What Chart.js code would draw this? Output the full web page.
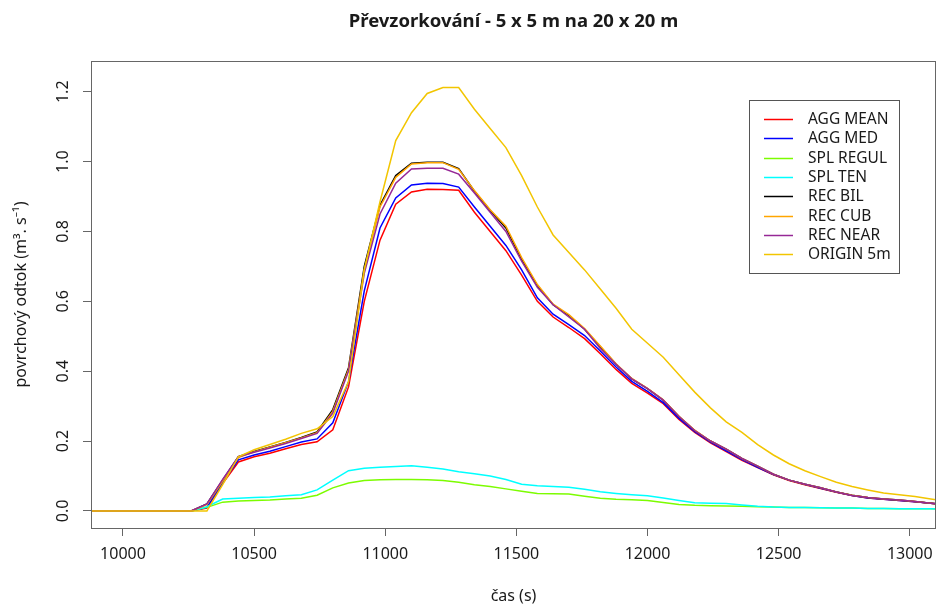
<!DOCTYPE html>
<html lang="cs">
<head>
<meta charset="UTF-8">
<title>Převzorkování - 5 x 5 m na 20 x 20 m</title>
<script src="https://cdn.jsdelivr.net/npm/chart.js@4.4.1/dist/chart.umd.min.js"></script>
<style>
    html, body { margin: 0; padding: 0; background: #fff; }
    canvas { display: block; }
</style>
</head>
<body>
<canvas id="runoffChart" width="936" height="608"></canvas>
<script>
// time steps (s), one record per minute once the runoff starts
const times = [
    9840, 10260, 10320, 10380, 10440, 10500, 10560, 10620, 10680, 10740,
    10800, 10860, 10920, 10980, 11040, 11100, 11160, 11220, 11280, 11340,
    11400, 11460, 11520, 11580, 11640, 11700, 11760, 11820, 11880, 11940,
    12000, 12060, 12120, 12180, 12240, 12300, 12360, 12420, 12480, 12540,
    12600, 12660, 12720, 12780, 12840, 12900, 12960, 13020, 13080, 13140
];

// surface runoff (m3/s) for each resampling method
const aggMean = [
    0, 0, 0.008, 0.078, 0.14, 0.155, 0.165, 0.178, 0.19, 0.198,
    0.232, 0.355, 0.60, 0.775, 0.878, 0.913, 0.921, 0.92, 0.918, 0.855,
    0.80, 0.745, 0.675, 0.60, 0.555, 0.525, 0.493, 0.45, 0.405, 0.365,
    0.337, 0.307, 0.262, 0.225, 0.195, 0.17, 0.145, 0.124, 0.103, 0.087,
    0.075, 0.064, 0.053, 0.044, 0.037, 0.033, 0.03, 0.026, 0.022, 0.018
];
const aggMed = [
    0, 0, 0.01, 0.082, 0.146, 0.16, 0.171, 0.184, 0.197, 0.206,
    0.252, 0.37, 0.63, 0.81, 0.896, 0.933, 0.938, 0.937, 0.927, 0.87,
    0.815, 0.76, 0.69, 0.61, 0.563, 0.533, 0.502, 0.458, 0.412, 0.371,
    0.342, 0.31, 0.265, 0.227, 0.197, 0.172, 0.147, 0.125, 0.104, 0.088,
    0.076, 0.065, 0.054, 0.044, 0.037, 0.033, 0.03, 0.026, 0.022, 0.018
];
const splRegul = [
    0, 0, 0.01, 0.025, 0.028, 0.03, 0.031, 0.034, 0.036, 0.045,
    0.066, 0.08, 0.087, 0.089, 0.09, 0.09, 0.089, 0.087, 0.082, 0.075,
    0.07, 0.063, 0.056, 0.05, 0.049, 0.048, 0.042, 0.036, 0.033, 0.032,
    0.03, 0.024, 0.018, 0.016, 0.015, 0.014, 0.013, 0.012, 0.011, 0.01,
    0.01, 0.009, 0.008, 0.008, 0.007, 0.007, 0.006, 0.006, 0.006, 0.005
];
const splTen = [
    0, 0, 0.012, 0.034, 0.036, 0.038, 0.04, 0.043, 0.046, 0.06,
    0.088, 0.115, 0.122, 0.125, 0.127, 0.129, 0.125, 0.12, 0.112, 0.106,
    0.1, 0.09, 0.076, 0.072, 0.07, 0.068, 0.062, 0.055, 0.05, 0.046,
    0.043, 0.037, 0.03, 0.023, 0.022, 0.021, 0.017, 0.013, 0.011, 0.01,
    0.01, 0.009, 0.008, 0.008, 0.007, 0.007, 0.006, 0.006, 0.006, 0.005
];
const recBil = [
    0, 0, 0.02, 0.088, 0.155, 0.17, 0.183, 0.196, 0.21, 0.226,
    0.29, 0.41, 0.70, 0.875, 0.96, 0.995, 0.998, 0.998, 0.98, 0.915,
    0.86, 0.81, 0.72, 0.645, 0.59, 0.56, 0.52, 0.47, 0.42, 0.378,
    0.35, 0.317, 0.27, 0.23, 0.2, 0.177, 0.15, 0.128, 0.105, 0.088,
    0.076, 0.066, 0.054, 0.045, 0.038, 0.034, 0.031, 0.027, 0.022, 0.018
];
const recCub = [
    0, 0, 0.018, 0.085, 0.153, 0.169, 0.182, 0.195, 0.209, 0.224,
    0.285, 0.405, 0.69, 0.87, 0.955, 0.993, 0.997, 0.997, 0.978, 0.917,
    0.862, 0.815, 0.725, 0.648, 0.592, 0.562, 0.522, 0.472, 0.421, 0.379,
    0.351, 0.318, 0.271, 0.231, 0.2, 0.177, 0.15, 0.128, 0.105, 0.088,
    0.076, 0.066, 0.054, 0.045, 0.038, 0.034, 0.031, 0.027, 0.022, 0.018
];
const recNear = [
    0, 0, 0.02, 0.09, 0.155, 0.168, 0.18, 0.193, 0.207, 0.222,
    0.28, 0.40, 0.68, 0.85, 0.938, 0.979, 0.981, 0.981, 0.964, 0.91,
    0.855, 0.80, 0.715, 0.64, 0.59, 0.555, 0.52, 0.465, 0.42, 0.378,
    0.35, 0.317, 0.27, 0.23, 0.2, 0.177, 0.15, 0.128, 0.105, 0.088,
    0.076, 0.066, 0.054, 0.044, 0.038, 0.034, 0.031, 0.027, 0.022, 0.018
];
const origin5m = [
    0, 0, 0, 0.075, 0.155, 0.175, 0.19, 0.205, 0.222, 0.235,
    0.27, 0.37, 0.69, 0.885, 1.06, 1.14, 1.195, 1.212, 1.212, 1.15,
    1.095, 1.04, 0.96, 0.87, 0.79, 0.74, 0.69, 0.635, 0.58, 0.52,
    0.48, 0.44, 0.39, 0.34, 0.295, 0.255, 0.225, 0.19, 0.16, 0.135,
    0.115, 0.098, 0.082, 0.07, 0.06, 0.051, 0.046, 0.041, 0.034, 0.028
];

const seriesLabels = ['AGG MEAN', 'AGG MED', 'SPL REGUL', 'SPL TEN', 'REC BIL', 'REC CUB', 'REC NEAR', 'ORIGIN 5m'];
const seriesValues = [aggMean, aggMed, splRegul, splTen, recBil, recCub, recNear, origin5m];
const seriesColors = ['#ff0000', '#0000ff', '#7cfc00', '#00ffff', '#000000', '#ffa500', '#962896', '#f2c500'];

const xTicks = [10000, 10500, 11000, 11500, 12000, 12500, 13000];
const yTicks = [0, 0.2, 0.4, 0.6, 0.8, 1.0, 1.2];

const FONT = '"Noto Sans", "Open Sans", sans-serif';
const AXIS_COLOR = '#666';
const TEXT_COLOR = '#1a1a1a';

// box around the plot, title over the plot, vertical y labels and the legend
const framePlugin = {
    id: 'framePlugin',
    afterDraw(chart) {
        const { ctx, chartArea: a, scales } = chart;
        ctx.save();

        ctx.strokeStyle = AXIS_COLOR;
        ctx.lineWidth = 1;
        ctx.strokeRect(a.left + 0.5, a.top + 0.5, a.right - a.left - 1, a.bottom - a.top);

        ctx.fillStyle = TEXT_COLOR;
        ctx.textAlign = 'center';
        ctx.textBaseline = 'middle';
        ctx.font = `bold 18.5px ${FONT}`;
        ctx.fillText('Převzorkování - 5 x 5 m na 20 x 20 m', (a.left + a.right) / 2, 22);

        ctx.font = `16px ${FONT}`;
        yTicks.forEach(v => {
            const y = scales.y.getPixelForValue(v);
            ctx.save();
            ctx.translate(63, y);
            ctx.rotate(-Math.PI / 2);
            ctx.fillText(v.toFixed(1), 0, 0);
            ctx.restore();
        });

        // legend
        const bx = a.right - 187, by = a.top + 39, bw = 150, bh = 173;
        ctx.fillStyle = '#fff';
        ctx.fillRect(bx, by, bw, bh);
        ctx.strokeStyle = '#555';
        ctx.strokeRect(bx + 0.5, by + 0.5, bw, bh);
        ctx.textAlign = 'left';
        ctx.font = `15.5px ${FONT}`;
        seriesLabels.forEach((label, i) => {
            const y = Math.round(by + 19 + i * 19.3) + 0.5;
            ctx.strokeStyle = seriesColors[i];
            ctx.lineWidth = 1.5;
            ctx.beginPath();
            ctx.moveTo(bx + 15, y);
            ctx.lineTo(bx + 44, y);
            ctx.stroke();
            ctx.fillStyle = TEXT_COLOR;
            ctx.fillText(label, bx + 59, y);
        });

        ctx.restore();
    }
};

function buildDatasets() {
    return seriesLabels.map((label, i) => ({
        label,
        data: times.map((t, k) => ({ x: t, y: seriesValues[i][k] })),
        borderColor: seriesColors[i],
        borderWidth: 1.5,
        pointRadius: 0,
        fill: false,
        tension: 0,
        // later series are drawn on top
        order: seriesLabels.length - i
    }));
}

const ctx = document.getElementById('runoffChart').getContext('2d');
new Chart(ctx, {
    type: 'line',
    data: { datasets: buildDatasets() },
    options: {
        responsive: false,
        animation: false,
        layout: { autoPadding: false, padding: { left: 0, right: 0, top: 61, bottom: 0 } },
        plugins: {
            legend: { display: false },
            tooltip: { enabled: false },
            title: { display: false }
        },
        scales: {
            x: {
                type: 'linear',
                min: 9878,
                max: 13100,
                afterBuildTicks: scale => { scale.ticks = xTicks.map(v => ({ value: v })); },
                afterFit: scale => {
                    scale.height = 80;
                    scale.paddingLeft = 0;
                    scale.paddingRight = 0;
                },
                border: { display: false },
                grid: { drawOnChartArea: false, drawTicks: true, tickLength: 8, color: AXIS_COLOR },
                ticks: {
                    padding: 9,
                    color: TEXT_COLOR,
                    font: { family: FONT, size: 16 },
                    maxRotation: 0,
                    callback: v => String(v)
                },
                title: {
                    display: true,
                    text: 'čas (s)',
                    color: TEXT_COLOR,
                    font: { family: FONT, size: 16 },
                    padding: { top: 0, bottom: 2 }
                }
            },
            y: {
                type: 'linear',
                min: -0.049,
                max: 1.288,
                afterBuildTicks: scale => { scale.ticks = yTicks.map(v => ({ value: v })); },
                afterFit: scale => { scale.width = 91; },
                border: { display: false },
                grid: { drawOnChartArea: false, drawTicks: true, tickLength: 8, color: AXIS_COLOR },
                ticks: { display: false },
                title: {
                    display: true,
                    text: 'povrchový odtok (m³. s⁻¹)',
                    color: TEXT_COLOR,
                    font: { family: FONT, size: 16 },
                    padding: { top: 12, bottom: 0 }
                }
            }
        }
    },
    plugins: [framePlugin]
});
</script>
</body>
</html>
